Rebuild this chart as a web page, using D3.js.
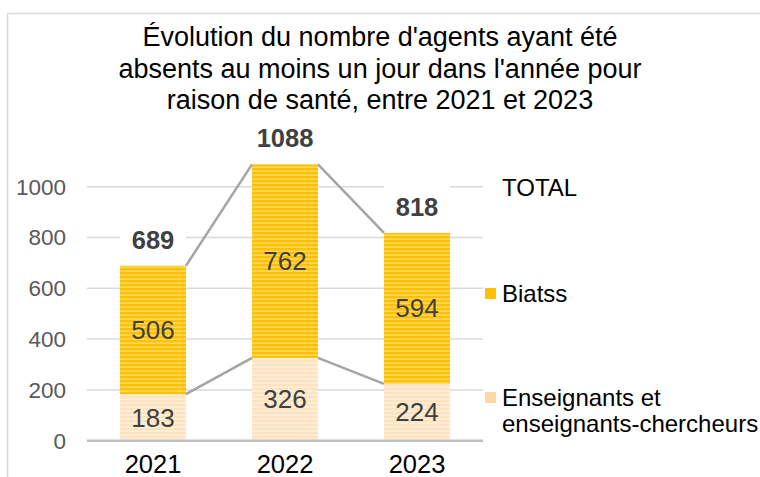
<!DOCTYPE html>
<html>
<head>
<meta charset="utf-8">
<script src="https://cdn.jsdelivr.net/npm/d3@7"></script>
<style>
  body { margin: 0; background: #fff; }
  svg { display: block; font-family: "Liberation Sans", Arial, sans-serif; }
</style>
</head>
<body>
<svg id="chart" width="760" height="477"></svg>
<script>
// data
var years = ["2021", "2022", "2023"];
var enseignants = [183, 326, 224];
var biatss = [506, 762, 594];
var totals = [689, 1088, 818];
var yTicks = [0, 200, 400, 600, 800, 1000];
var titleLines = ["Évolution du nombre d'agents ayant été",
                  "absents au moins un jour dans l'année pour",
                  "raison de santé, entre 2021 et 2023"];

var svg = d3.select("#chart");

// outer frame
svg.append("rect")
  .attr("x", 7.5).attr("y", 13.5)
  .attr("width", 800).attr("height", 500)
  .attr("fill", "none").attr("stroke", "#d9d9d9").attr("stroke-width", 1.5);

// stripe patterns
var defs = svg.append("defs");
function stripes(id, base, light) {
  var p = defs.append("pattern")
    .attr("id", id).attr("patternUnits", "userSpaceOnUse")
    .attr("width", 8).attr("height", 4);
  p.append("rect").attr("width", 8).attr("height", 4).attr("fill", base);
  p.append("rect").attr("y", 2.5).attr("width", 8).attr("height", 1.2).attr("fill", light);
}
stripes("pBiatss", "#ffc000", "#ffe17a");
stripes("pEns", "#fde3bf", "#fff3e2");

var x = d3.scaleBand().domain(years).range([87, 483]).paddingInner(0.5).paddingOuter(0.25);
var y = d3.scaleLinear().domain([0, 1000]).range([440.7, 186.7]);

// gridlines
svg.append("g").selectAll("line")
  .data(yTicks.filter(function(d) { return d > 0; }))
  .enter().append("line")
  .attr("x1", 87).attr("x2", 483)
  .attr("y1", function(d) { return y(d); })
  .attr("y2", function(d) { return y(d); })
  .attr("stroke", "#d9d9d9").attr("stroke-width", 1.5);

// y tick labels
svg.append("g").selectAll("text")
  .data(yTicks)
  .enter().append("text")
  .attr("x", 66).attr("y", function(d) { return y(d); })
  .attr("dy", "0.35em").attr("text-anchor", "end")
  .attr("font-size", 22.5).attr("fill", "#595959")
  .text(function(d) { return d; });

// stacked bars
var rows = years.map(function(yr, i) { return { year: yr, ens: enseignants[i], biatss: biatss[i] }; });
var stack = d3.stack().keys(["ens", "biatss"])(rows);
var fills = { ens: "url(#pEns)", biatss: "url(#pBiatss)" };

svg.append("g").selectAll("g")
  .data(stack)
  .enter().append("g")
  .attr("fill", function(s) { return fills[s.key]; })
  .selectAll("rect")
  .data(function(s) { return s; })
  .enter().append("rect")
  .attr("x", function(d) { return x(d.data.year); })
  .attr("width", x.bandwidth())
  .attr("y", function(d) { return y(d[1]); })
  .attr("height", function(d) { return y(d[0]) - y(d[1]); });

// series lines between bars
function connector(values) {
  var segs = [];
  for (var i = 0; i < values.length - 1; i++) {
    segs.push([[x(years[i]) + x.bandwidth(), y(values[i])], [x(years[i + 1]), y(values[i + 1])]]);
  }
  return segs;
}
var lineG = svg.append("g");
[totals, enseignants].forEach(function(vals) {
  lineG.selectAll(null)
    .data(connector(vals))
    .enter().append("path")
    .attr("d", d3.line())
    .attr("fill", "none").attr("stroke", "#a5a5a5").attr("stroke-width", 2.5);
});

// baseline
svg.append("line")
  .attr("x1", 87).attr("x2", 483)
  .attr("y1", y(0)).attr("y2", y(0))
  .attr("stroke", "#bfbfbf").attr("stroke-width", 2.5);

// segment labels
stack.forEach(function(s) {
  svg.append("g").selectAll("text")
    .data(s)
    .enter().append("text")
    .attr("x", function(d) { return x(d.data.year) + x.bandwidth() / 2; })
    .attr("y", function(d) { return y((d[0] + d[1]) / 2); })
    .attr("dy", "0.35em").attr("text-anchor", "middle")
    .attr("font-size", 26).attr("fill", "#404040")
    .text(function(d) { return d[1] - d[0]; });
});

// total labels with white boxes
var tot = svg.append("g").selectAll("g")
  .data(totals)
  .enter().append("g")
  .attr("transform", function(d, i) {
    return "translate(" + (x(years[i]) + x.bandwidth() / 2) + "," + (y(d) - 26) + ")";
  });
tot.append("rect")
  .attr("x", -x.bandwidth() / 2).attr("y", -22)
  .attr("width", x.bandwidth()).attr("height", 44)
  .attr("fill", "#fff");
tot.append("text")
  .attr("dy", "0.35em").attr("text-anchor", "middle")
  .attr("font-size", 25.5).attr("font-weight", "bold").attr("fill", "#404040")
  .text(function(d) { return d; });

// x labels
svg.append("g").selectAll("text")
  .data(years)
  .enter().append("text")
  .attr("x", function(d) { return x(d) + x.bandwidth() / 2; })
  .attr("y", 473).attr("text-anchor", "middle")
  .attr("font-size", 25.5).attr("fill", "#000")
  .text(function(d) { return d; });

// title
svg.append("g").selectAll("text")
  .data(titleLines)
  .enter().append("text")
  .attr("x", 380).attr("y", function(d, i) { return 46 + i * 31.5; })
  .attr("text-anchor", "middle")
  .attr("font-size", 27).attr("fill", "#000")
  .text(function(d) { return d; });

// legend
var legend = svg.append("g").attr("font-size", 24).attr("fill", "#000");
legend.append("text").attr("x", 502).attr("y", 188).attr("dy", "0.35em").text("TOTAL");
legend.append("rect").attr("x", 485).attr("y", 288).attr("width", 11).attr("height", 11).attr("fill", "#ffc000");
legend.append("text").attr("x", 502).attr("y", 294).attr("dy", "0.35em").text("Biatss");
legend.append("rect").attr("x", 485).attr("y", 392).attr("width", 11).attr("height", 11).attr("fill", "#fbd9a6");
legend.append("text").attr("x", 502).attr("y", 398).attr("dy", "0.35em").text("Enseignants et");
legend.append("text").attr("x", 502).attr("y", 424).attr("dy", "0.35em").text("enseignants-chercheurs");
</script>
</body>
</html>
